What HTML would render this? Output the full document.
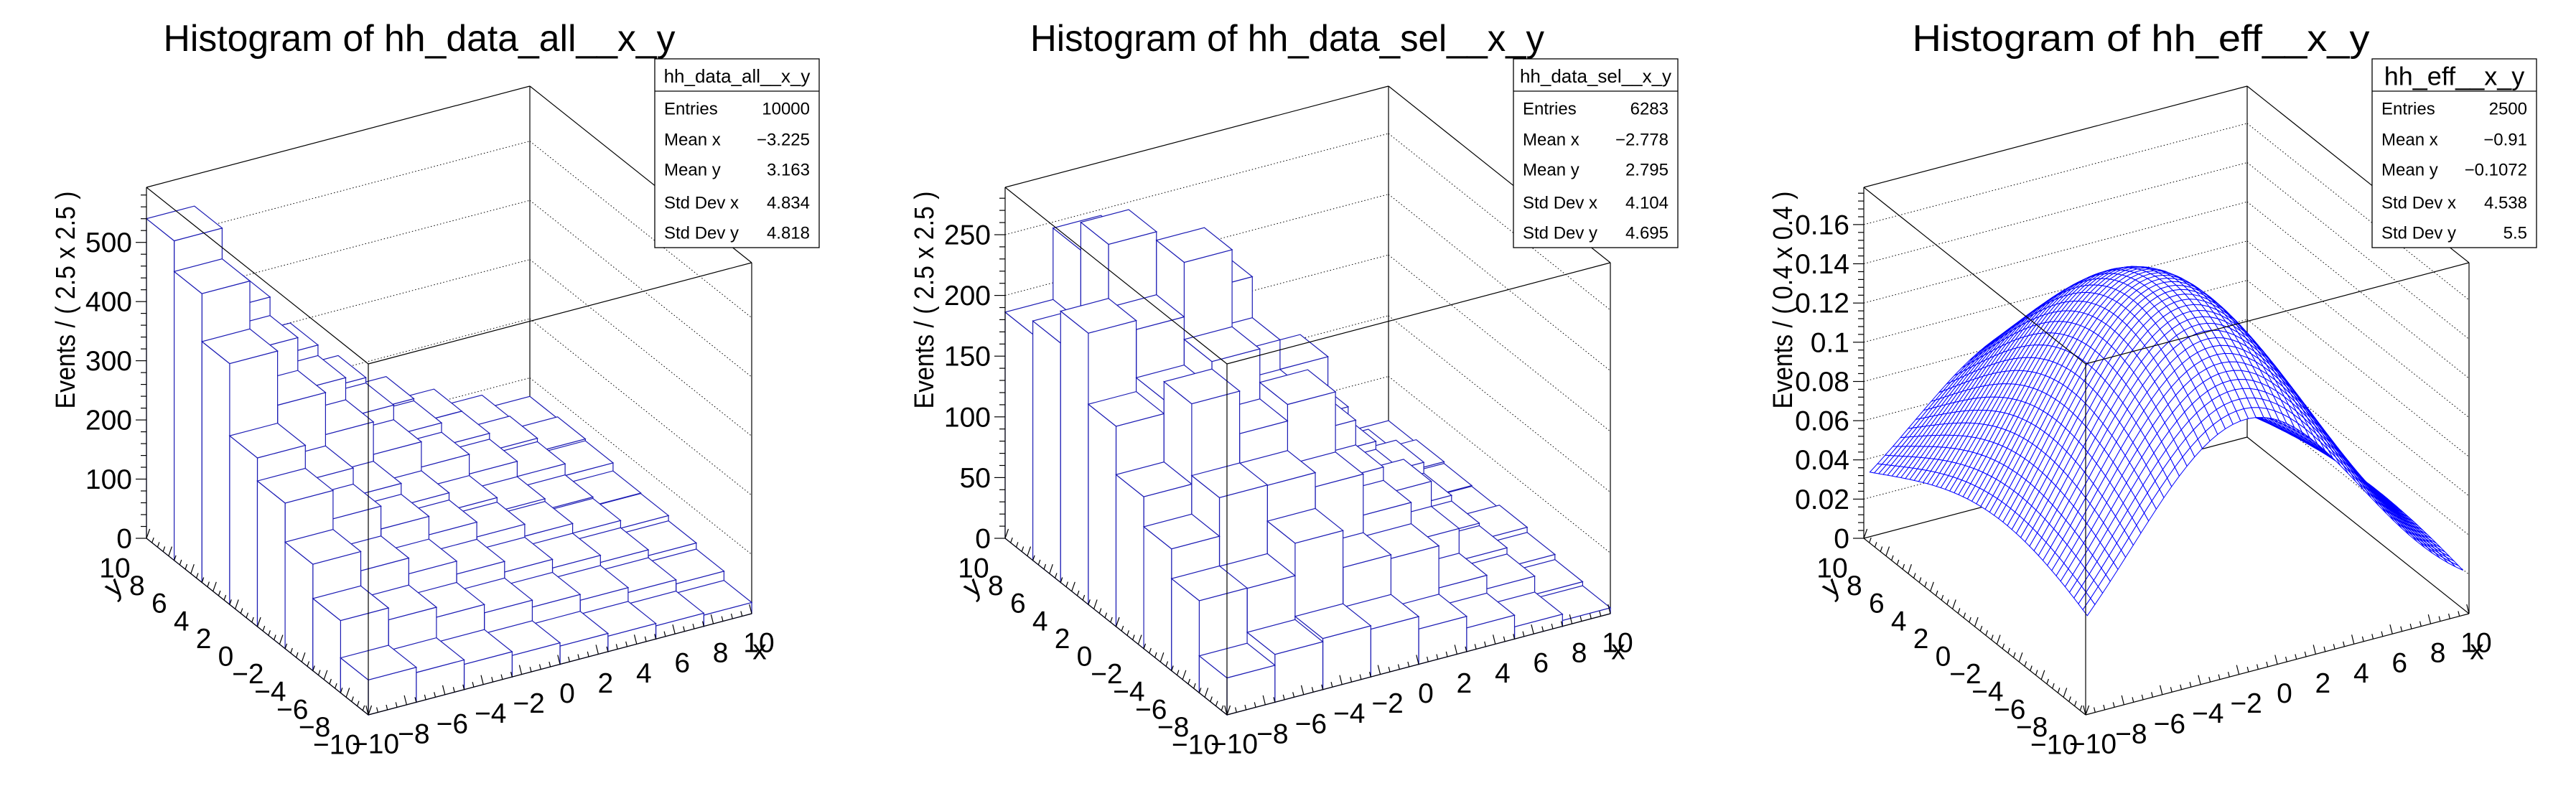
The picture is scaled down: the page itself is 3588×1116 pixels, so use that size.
<!DOCTYPE html>
<html><head><meta charset="utf-8">
<style>
html,body{margin:0;padding:0;background:#fff;}
svg{display:block;}
text{font-family:"Liberation Sans",Arial,sans-serif;fill:#000;}
</style></head>
<body>
<svg id="s" width="3588" height="1116" xmlns="http://www.w3.org/2000/svg"></svg>
<script>
var S=document.getElementById('s');var out=[];
function f(v){return v.toFixed(1);}
var F0=[513,996],EX=[534,-141],EY=[-309,-246],H=489;
function P(ox,zmax,x,y,z){var a=(x+10)/20,b=(y+10)/20;
 return [ox+F0[0]+EX[0]*a+EY[0]*b, F0[1]+EX[1]*a+EY[1]*b-H*z/zmax];}
function line(p,q,st){out.push('<line x1="'+f(p[0])+'" y1="'+f(p[1])+'" x2="'+f(q[0])+'" y2="'+f(q[1])+'" '+st+'/>');}
function poly(pts,st){out.push('<polygon points="'+pts.map(function(p){return f(p[0])+','+f(p[1]);}).join(' ')+'" '+st+'/>');}
function text(x,y,s,sz,anc,extra){out.push('<text x="'+f(x)+'" y="'+f(y)+'" font-size="'+sz+'" text-anchor="'+(anc||'middle')+'" dominant-baseline="central" '+(extra||'')+'>'+s+'</text>');}
var BK='stroke="#000" stroke-width="1.2" fill="none"';
var DOT='stroke="#000" stroke-width="1" stroke-dasharray="1.5,3" fill="none"';
function eff(x,y){return 0.16*Math.exp(-(x+1.5)*(x+1.5)/72)*Math.exp(-y*y/247)*(1-0.0184*y);}
function effd(x,y){return 0.148*Math.exp(-(x+1.5)*(x+1.5)/72)*Math.exp(-y*y/325)*(1-0.0184*y);}

function backFrame(ox,zmax,major){
 var L0=P(ox,zmax,-10,10,0),B0=P(ox,zmax,10,10,0),R0=P(ox,zmax,10,-10,0);
 var L1=P(ox,zmax,-10,10,zmax),B1=P(ox,zmax,10,10,zmax),R1=P(ox,zmax,10,-10,zmax);
 for(var z=major;z<zmax-1e-9;z+=major){line(P(ox,zmax,-10,10,z),P(ox,zmax,10,10,z),DOT);line(P(ox,zmax,10,10,z),P(ox,zmax,10,-10,z),DOT);}
 line(L0,B0,BK);line(B0,R0,BK);line(L1,B1,BK);line(B1,R1,BK);line(B0,B1,BK);line(R0,R1,BK);
}
function frontFrame(ox,zmax,major,minor,labFmt){
 var F=P(ox,zmax,-10,-10,0),L0=P(ox,zmax,-10,10,0),R0=P(ox,zmax,10,-10,0),FT=P(ox,zmax,-10,-10,zmax),L1=P(ox,zmax,-10,10,zmax),R1=P(ox,zmax,10,-10,zmax);
 line(F,FT,BK);line(FT,L1,BK);line(FT,R1,BK);line(L0,L1,BK);line(F,L0,BK);line(F,R0,BK);
 var n=Math.round(zmax/minor);
 for(var k=0;k<=n;k++){var z=k*minor;if(z>zmax+1e-9)break;var p=P(ox,zmax,-10,10,z);var maj=Math.abs(z/major-Math.round(z/major))<1e-6;
  line(p,[p[0]-(maj?15:8),p[1]],BK);
  if(maj)text(p[0]-20,p[1]+1,labFmt(z),39,'end');}
 for(var v=-10;v<=10.001;v+=0.5){var maj=Math.abs(v/2-Math.round(v/2))<1e-6;var L=maj?13:7;
  var p=P(ox,zmax,-10,v,0);line(p,[p[0]+L*0.35,p[1]-L],BK);
  var q=P(ox,zmax,v,-10,0);line(q,[q[0]-L*0.25,q[1]-L],BK);
  if(maj){var vs=(v<0?'\u2212':'')+Math.abs(Math.round(v));
   text(p[0]-44,p[1]+42,vs,39,'middle');text(q[0]+10,q[1]+41,vs,39,'middle');}}
 text(ox+158,818,'y',39,'middle','transform="rotate(-40 '+(ox+158)+' 818)"');
 text(ox+1058,906,'x',39,'middle');
}
function statsBox(ox,name,rows,hsz){
 var x0=ox+912,y0=82,w=229,h=263;
 out.push('<rect x="'+x0+'" y="'+y0+'" width="'+w+'" height="'+h+'" fill="#fff" stroke="#000" stroke-width="1.3"/>');
 line([x0,127],[x0+w,127],BK);
 text(x0+w/2,106,name,hsz,'middle');
 var ys=[152,195,237,283,325];
 for(var i=0;i<5;i++){text(ox+925,ys[i],rows[i][0],24,'start');text(ox+1128,ys[i],rows[i][1],24,'end');}
}
function title(ox,cx,s,len){out.push('<text x="'+(ox+cx)+'" y="54" font-size="52" text-anchor="middle" dominant-baseline="central" textLength="'+len+'" lengthAdjust="spacingAndGlyphs">'+s+'</text>');}
function ztitle(ox,s){out.push('<text x="'+(ox+92)+'" y="418" font-size="38" text-anchor="middle" dominant-baseline="central" transform="rotate(-90 '+(ox+92)+' 418)" textLength="303" lengthAdjust="spacingAndGlyphs">'+s+'</text>');}

function lego(ox,zmax,h,col){
 var bins=[];for(var i=0;i<8;i++)for(var j=0;j<8;j++)bins.push([i,j]);
 bins.sort(function(a,b){return (b[0]*0.6+b[1])-(a[0]*0.6+a[1]);});
 var st='fill="#fff" stroke="'+col+'" stroke-width="1.2"';
 bins.forEach(function(b){var i=b[0],j=b[1],v=h[i][j];var x0=-10+2.5*i,x1=x0+2.5,y0=-10+2.5*j,y1=y0+2.5;
  poly([P(ox,zmax,x0,y0,0),P(ox,zmax,x1,y0,0),P(ox,zmax,x1,y0,v),P(ox,zmax,x0,y0,v)],st);
  poly([P(ox,zmax,x0,y0,0),P(ox,zmax,x0,y1,0),P(ox,zmax,x0,y1,v),P(ox,zmax,x0,y0,v)],st);
  poly([P(ox,zmax,x0,y0,v),P(ox,zmax,x1,y0,v),P(ox,zmax,x1,y1,v),P(ox,zmax,x0,y1,v)],st);});
}
var col0=[59,122,180,246,285,407,488,540];
var h1=[],h2=[];
for(var i=0;i<8;i++){h1.push([]);h2.push([]);for(var j=0;j<8;j++){var fj=0.85-0.015*j;h1[i].push(col0[j]*Math.pow(fj,i));}}
var mx=0;for(var i=0;i<8;i++)for(var j=0;j<8;j++){var v=h1[i][j]*effd(-8.75+2.5*i,-8.75+2.5*j)*(1+0.12*Math.sin(i*3.1+j*1.7));h2[i][j]=v;if(v>mx)mx=v;}
for(var i=0;i<8;i++)for(var j=0;j<8;j++)h2[i][j]*=268/mx;

var ox=0;
backFrame(ox,593,100);lego(ox,593,h1,'#1c1cb4');frontFrame(ox,593,100,20,function(z){return Math.round(z)+'';});
title(ox,584,'Histogram of hh_data_all__x_y',713);ztitle(ox,'Events / ( 2.5 x 2.5 )');
statsBox(ox,'hh_data_all__x_y',[['Entries','10000'],['Mean x','\u22123.225'],['Mean y','3.163'],['Std Dev x','4.834'],['Std Dev y','4.818']],26);
ox=1196;
backFrame(ox,289,50);lego(ox,289,h2,'#1c1cb4');frontFrame(ox,289,50,10,function(z){return Math.round(z)+'';});
title(ox,597,'Histogram of hh_data_sel__x_y',716);ztitle(ox,'Events / ( 2.5 x 2.5 )');
statsBox(ox,'hh_data_sel__x_y',[['Entries','6283'],['Mean x','\u22122.778'],['Mean y','2.795'],['Std Dev x','4.104'],['Std Dev y','4.695']],26);
ox=2392;var zm=0.179;
backFrame(ox,zm,0.02);
(function(){var N=50,pts=[];
 for(var a=0;a<N;a++){pts.push([]);for(var b=0;b<N;b++){var x=-9.8+0.4*a,y=-9.8+0.4*b;pts[a].push(P(ox,zm,x,y,eff(x,y)));}}
 var q=[];for(var a=0;a<N-1;a++)for(var b=0;b<N-1;b++)q.push([a,b]);
 q.sort(function(u,v){return (v[0]*0.6+v[1])-(u[0]*0.6+u[1]);});
 var st='fill="#fff" stroke="#0000ff" stroke-width="1"';
 q.forEach(function(c){var a=c[0],b=c[1];poly([pts[a][b],pts[a+1][b],pts[a+1][b+1],pts[a][b+1]],st);});
})();
frontFrame(ox,zm,0.02,0.004,function(z){return (Math.round(z*100)/100).toString();});
title(ox,590,'Histogram of hh_eff__x_y',637);ztitle(ox,'Events / ( 0.4 x 0.4 )');
statsBox(ox,'hh_eff__x_y',[['Entries','2500'],['Mean x','\u22120.91'],['Mean y','\u22120.1072'],['Std Dev x','4.538'],['Std Dev y','5.5']],36);
S.innerHTML=out.join('');
</script>
</body></html>
